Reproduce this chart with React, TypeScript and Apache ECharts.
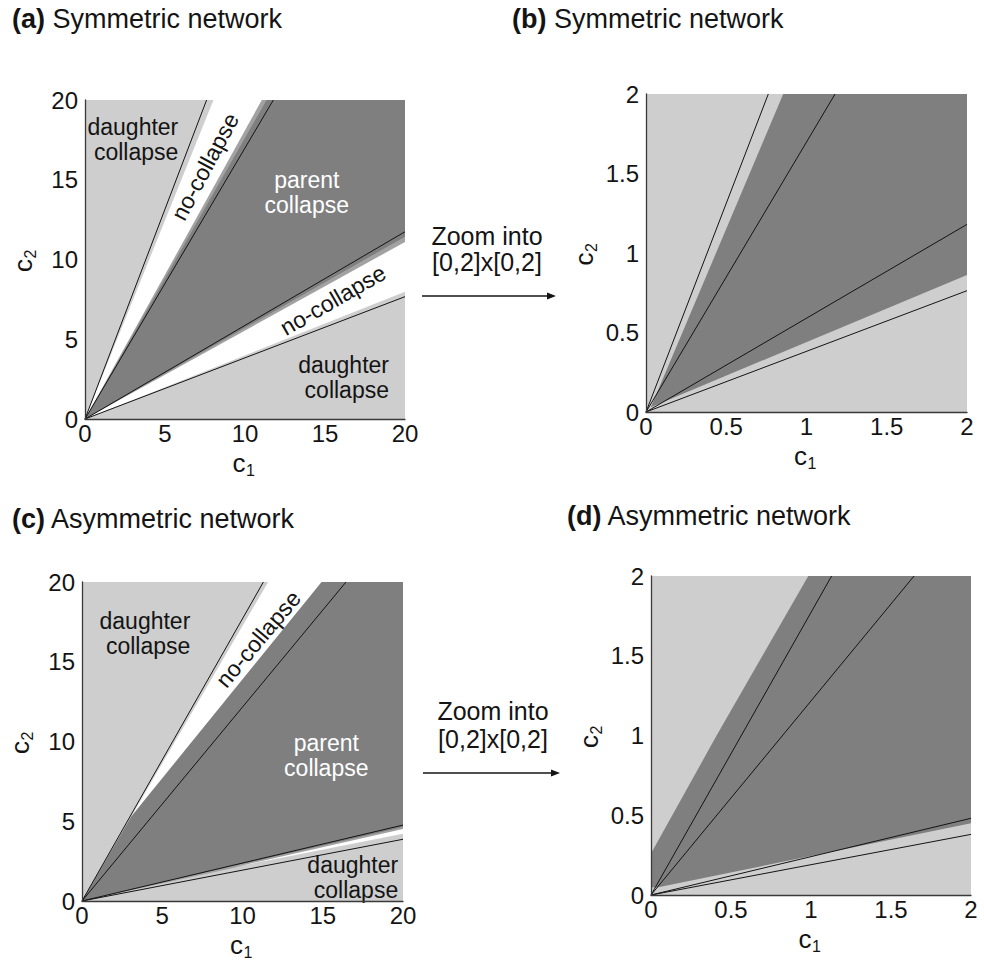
import React, { useEffect, useRef } from "react";
import * as echarts from "echarts";

type Pt = [number, number];
type Lbl = { text: string; x: number; y: number; angle: number; kind: "daughter" | "none" | "parent" };

const FONT = '"Liberation Sans", Arial, Helvetica, sans-serif';
const LIGHT = "#cecece";
const DARK = "#7f7f7f";
const MID = "#a2a2a2";
const WHITE = "#ffffff";
const INK = "#141414";

// ---------- data ----------
const TITLES = ["Symmetric network", "Symmetric network", "Asymmetric network", "Asymmetric network"];
const TITLE_TAGS = ["(a)", "(b)", "(c)", "(d)"];
const ZOOM_TEXT = ["Zoom into", "[0,2]x[0,2]"];

// (a) symmetric network, [0,20]x[0,20]
const A_DOMAIN: Pt[] = [[0, 0], [20, 0], [20, 20], [0, 20]];
const A_NO_COLLAPSE: Pt[] = [[0, 0], [8.03, 20], [20, 20], [20, 7.98]];
const A_EDGE: Pt[] = [[0, 0], [11.05, 20], [20, 20], [20, 11.1]];
const A_PARENT: Pt[] = [[0, 0], [11.35, 20], [20, 20], [20, 11.43]];
const A_LINE_ENDS: Pt[] = [[7.6, 20], [11.77, 20], [20, 11.74], [20, 7.67]];
const A_LABELS: Lbl[] = [
  { text: "daughter\ncollapse", x: 5.83, y: 17.54, angle: 0, kind: "daughter" },
  { text: "no-collapse", x: 7.5, y: 15.82, angle: 62, kind: "none" },
  { text: "parent\ncollapse", x: 13.86, y: 14.17, angle: 0, kind: "parent" },
  { text: "no-collapse", x: 15.5, y: 7.46, angle: 30, kind: "none" },
  { text: "daughter\ncollapse", x: 19.0, y: 2.6, angle: 0, kind: "daughter" },
];

// (b) symmetric network, zoom [0,2]x[0,2]
const B_DOMAIN: Pt[] = [[0, 0], [2, 0], [2, 2], [0, 2]];
const B_PARENT: Pt[] = [[0.03, 0.03], [0.855, 2], [2, 2], [2, 0.862]];
const B_LINE_ENDS: Pt[] = [[0.762, 2], [1.178, 2], [2, 1.18], [2, 0.763]];

// (c) asymmetric network, [0,20]x[0,20]
const C_DOMAIN: Pt[] = [[0, 0], [20, 0], [20, 20], [0, 20]];
const C_NO_COLLAPSE_UP: Pt[] = [[3.07, 5.3], [11.6, 20], [14.93, 20]];
const C_EDGE_LOW: Pt[] = [[0, 0], [20, 4.62], [20, 4.4]];
const C_NO_COLLAPSE_LOW: Pt[] = [[9.5, 2.12], [20, 4.52], [20, 4.22]];
const C_PARENT: Pt[] = [[0, 0], [3.07, 5.3], [14.93, 20], [20, 20], [20, 4.62]];
const C_LINE_ENDS: Pt[] = [[11.3, 20], [16.45, 20], [20, 4.76], [20, 3.87]];
const C_LABELS: Lbl[] = [
  { text: "daughter\ncollapse", x: 6.75, y: 16.8, angle: 0, kind: "daughter" },
  { text: "no-collapse", x: 10.98, y: 16.43, angle: 50, kind: "none" },
  { text: "parent\ncollapse", x: 15.22, y: 9.15, angle: 0, kind: "parent" },
  { text: "daughter\ncollapse", x: 19.7, y: 1.47, angle: 0, kind: "daughter" },
];

// (d) asymmetric network, zoom [0,2]x[0,2]
const D_DOMAIN: Pt[] = [[0, 0], [2, 0], [2, 2], [0, 2]];
const D_PARENT: Pt[] = [[0, 0.26], [0.2, 0.62], [0.41, 1.0], [0.983, 2], [2, 2], [2, 0.45], [0.03, 0.045], [0, 0.05]];
const D_LINE_ENDS: Pt[] = [[1.129, 2], [1.644, 2], [2, 0.481], [2, 0.38]];

// ---------- layout / style ----------
const LABEL_STYLE: Record<string, { color: string; align: string }> = {
  daughter: { color: INK, align: "right" },
  none: { color: INK, align: "center" },
  parent: { color: "#ffffff", align: "center" },
};

const PANELS = [
  { grid: { left: 85, top: 100, width: 320, height: 319 }, max: 20, interval: 5,
    layers: [{ pts: A_DOMAIN, color: LIGHT }, { pts: A_NO_COLLAPSE, color: WHITE }, { pts: A_EDGE, color: MID }, { pts: A_PARENT, color: DARK }],
    lines: A_LINE_ENDS, labels: A_LABELS },
  { grid: { left: 646, top: 94, width: 321, height: 318 }, max: 2, interval: 0.5,
    layers: [{ pts: B_DOMAIN, color: LIGHT }, { pts: B_PARENT, color: DARK }],
    lines: B_LINE_ENDS, labels: [] as Lbl[] },
  { grid: { left: 82, top: 582, width: 321, height: 319 }, max: 20, interval: 5,
    layers: [{ pts: C_DOMAIN, color: LIGHT }, { pts: C_EDGE_LOW, color: MID }, { pts: C_NO_COLLAPSE_LOW, color: WHITE },
      { pts: C_NO_COLLAPSE_UP, color: WHITE }, { pts: C_PARENT, color: DARK }],
    lines: C_LINE_ENDS, labels: C_LABELS },
  { grid: { left: 651, top: 576, width: 320, height: 319 }, max: 2, interval: 0.5,
    layers: [{ pts: D_DOMAIN, color: LIGHT }, { pts: D_PARENT, color: DARK }],
    lines: D_LINE_ENDS, labels: [] as Lbl[] },
];

const TITLE_POS = [[12, 19], [512, 19], [12, 519], [567, 516]];
const ZOOM_POS = [{ cx: 487, y1: 236, y2: 262, ay: 296, ax1: 422, ax2: 556 }, { cx: 493, y1: 711, y2: 739, ay: 773, ax1: 423, ax2: 560 }];

// axis name "c" with a lowered subscript; (x, y) = start of the baseline of "c"
function axisName(x: number, y: number, sub: string, rotated: boolean) {
  return {
    type: "group", x, y, rotation: rotated ? Math.PI / 2 : 0, silent: true,
    children: [
      { type: "text", x: 0, y: -9, style: { text: "c", fontSize: 26, fontFamily: FONT, fill: INK, align: "left", verticalAlign: "middle" } },
      { type: "text", x: 13.5, y: -1.5, style: { text: sub, fontSize: 16, fontFamily: FONT, fill: INK, align: "left", verticalAlign: "middle" } },
    ],
  };
}

function buildOption() {
  const grid: any[] = [];
  const xAxis: any[] = [];
  const yAxis: any[] = [];
  const series: any[] = [];
  const graphic: any[] = [];

  PANELS.forEach((p, gi) => {
    grid.push({ ...p.grid, containLabel: false, show: false });
    const common = {
      type: "value", gridIndex: gi, min: 0, max: p.max, interval: p.interval, z: 10,
      axisLine: { show: true, onZero: false, lineStyle: { color: "#3a3a3a", width: 1.3 } },
      axisTick: { show: false }, splitLine: { show: false },
    };
    xAxis.push({ ...common, axisLabel: { fontSize: 24, color: INK, fontFamily: FONT, margin: 2 } });
    yAxis.push({ ...common, axisLabel: { fontSize: 24, color: INK, fontFamily: FONT, margin: 7 } });

    const layers = p.layers;
    series.push({
      type: "custom", xAxisIndex: gi, yAxisIndex: gi, silent: true, z: 2,
      data: layers.map((_, i) => [i]),
      renderItem: (params: any, api: any) => {
        const layer = layers[params.dataIndex];
        return { type: "polygon", shape: { points: layer.pts.map((q) => api.coord(q)) }, style: { fill: layer.color } };
      },
    });
    p.lines.forEach((end) => {
      series.push({
        type: "line", xAxisIndex: gi, yAxisIndex: gi, silent: true, z: 3, symbol: "none",
        lineStyle: { color: INK, width: 1 }, data: [[0, 0], end],
      });
    });
    const labels = p.labels;
    if (labels.length) {
      series.push({
        type: "custom", xAxisIndex: gi, yAxisIndex: gi, silent: true, z: 4,
        data: labels.map((l) => [l.x, l.y]),
        renderItem: (params: any, api: any) => {
          const l = labels[params.dataIndex];
          const st = LABEL_STYLE[l.kind];
          const c = api.coord([api.value(0), api.value(1)]);
          return {
            type: "text", x: c[0], y: c[1], rotation: (l.angle * Math.PI) / 180,
            style: { text: l.text, fontSize: 23, lineHeight: 25, fontFamily: FONT, fill: st.color, align: st.align, verticalAlign: "middle" },
          };
        },
      });
    }

    const g = p.grid;
    graphic.push(axisName(g.left + g.width / 2 - 12.5, g.top + g.height + 52.5, "1", false));
    graphic.push(axisName(g.left - 53, g.top + g.height / 2 + 12.5, "2", true));
  });

  TITLES.forEach((t, i) => {
    graphic.push({
      type: "text", x: TITLE_POS[i][0], y: TITLE_POS[i][1], silent: true,
      style: {
        text: "{b|" + TITLE_TAGS[i] + "} " + t, fontSize: 27, fontFamily: FONT, fill: INK, verticalAlign: "middle",
        rich: { b: { fontWeight: "bold", fontSize: 27, fontFamily: FONT, fill: INK, color: INK } },
      },
    });
  });

  ZOOM_POS.forEach((z) => {
    graphic.push({ type: "text", x: z.cx, y: z.y1, silent: true, style: { text: ZOOM_TEXT[0], fontSize: 25, fontFamily: FONT, fill: INK, align: "center", verticalAlign: "middle" } });
    graphic.push({ type: "text", x: z.cx, y: z.y2, silent: true, style: { text: ZOOM_TEXT[1], fontSize: 25, fontFamily: FONT, fill: INK, align: "center", verticalAlign: "middle" } });
    graphic.push({ type: "line", silent: true, shape: { x1: z.ax1, y1: z.ay, x2: z.ax2 - 7, y2: z.ay }, style: { stroke: INK, lineWidth: 1.5 } });
    graphic.push({ type: "polygon", silent: true, shape: { points: [[z.ax2, z.ay], [z.ax2 - 9, z.ay - 3.5], [z.ax2 - 9, z.ay + 3.5]] }, style: { fill: INK } });
  });

  return { animation: false, backgroundColor: "#ffffff", grid, xAxis, yAxis, series, graphic };
}

export default function App() {
  const ref = useRef<HTMLDivElement>(null);
  useEffect(() => {
    if (!ref.current) return;
    const chart = echarts.init(ref.current, undefined, { renderer: "svg" });
    chart.setOption(buildOption() as any);
    return () => chart.dispose();
  }, []);
  return <div ref={ref} style={{ position: "fixed", left: 0, top: 0, width: 984, height: 962 }} />;
}
